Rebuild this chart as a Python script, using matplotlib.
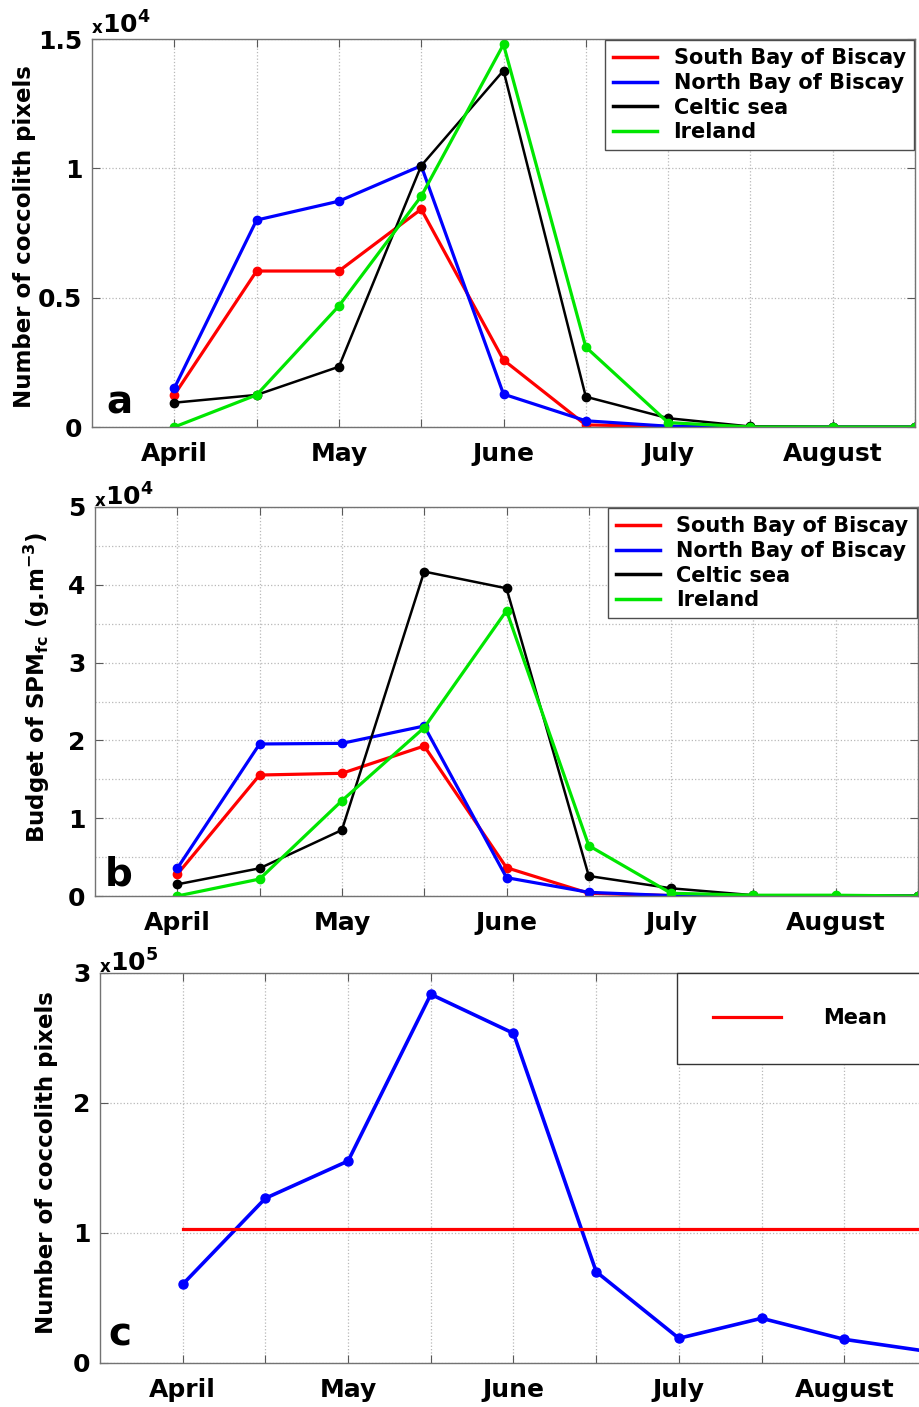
import numpy as np
import matplotlib
matplotlib.use('Agg')
import matplotlib.pyplot as plt
from matplotlib.lines import Line2D

plt.rcParams['font.family'] = ['DejaVu Sans']
plt.rcParams['font.weight'] = 'bold'
plt.rcParams['mathtext.default'] = 'bf'

# ==== data ====
months = ['April', '', 'May', '', 'June', '', 'July', '', 'August', '']
steps = np.arange(1, 11)

regions = ['South Bay of Biscay', 'North Bay of Biscay', 'Celtic sea', 'Ireland']
colors = ['#ff0000', '#0000ff', '#000000', '#00e600']

# panel a: number of coccolith pixels
south_a = [1240, 6030, 6030, 8420, 2590, 80, 20, 0, 0, 0]
north_a = [1500, 8000, 8730, 10100, 1270, 240, 30, 0, 0, 0]
celtic_a = [940, 1240, 2330, 10100, 13780, 1170, 340, 20, 0, 0]
ireland_a = [0, 1240, 4680, 8920, 14790, 3090, 170, 0, 0, 0]

# panel b: budget of SPM_fc (g.m-3)
south_b = [2790, 15550, 15770, 19280, 3640, 350, 50, 0, 0, 0]
north_b = [3560, 19540, 19620, 21850, 2360, 470, 50, 0, 0, 0]
celtic_b = [1500, 3560, 8480, 41700, 39550, 2570, 990, 100, 50, 0]
ireland_b = [0, 2180, 12250, 21640, 36670, 6470, 350, 100, 100, 0]

# panel c: total number of coccolith pixels
total_c = [60500, 126700, 155400, 283600, 253600, 70200, 19000, 34400, 18200, 9000]


W, H = 920, 1407
fig = plt.figure(figsize=(W/100., H/100.), dpi=100)

def px_axes(left, top, right, bottom):
    return fig.add_axes([left/W, 1 - bottom/H, (right - left)/W, (bottom - top)/H])

def style_axes(ax, ymax, ystep):
    ax.set_xlim(0, 10)
    ax.set_ylim(0, ymax)
    ax.set_xticks(steps)
    ax.set_xticklabels(months, fontsize=18, fontweight='bold')
    ax.set_yticks(np.arange(0, ymax + 1e-9, ystep))
    ax.tick_params(direction='in', top=True, right=True, length=6, width=0.8,
                   color='0.35')
    ax.tick_params(axis='x', pad=11, labelsize=18)
    ax.tick_params(axis='y', pad=7, labelsize=18)
    ax.grid(True, which='both', linestyle=':', color='0.72', linewidth=0.9)
    for s in ax.spines.values():
        s.set_color('0.45')
        s.set_linewidth(1.0)

def sci_label(ax, exponent, dy):
    ax.annotate('x', xy=(0, 1), xycoords='axes fraction', xytext=(0, dy),
                textcoords='offset points', fontsize=12, fontweight='bold', va='baseline')
    ax.annotate('10$^{%d}$' % exponent, xy=(0, 1), xycoords='axes fraction',
                xytext=(7.5, dy), textcoords='offset points', fontsize=18,
                fontweight='bold', va='baseline')

def legend4(ax):
    handles = [Line2D([], [], color=c, lw=2.5) for c in colors]
    leg = ax.legend(handles, regions, loc='upper right', bbox_to_anchor=(1.0, 1.0),
                    borderaxespad=0.05, fontsize=15, handlelength=2.1,
                    handletextpad=0.8, labelspacing=0.22, borderpad=0.4,
                    fancybox=False, framealpha=1, edgecolor='0.3')
    leg.get_frame().set_linewidth(1.0)

# ---- panel a ----
ax = px_axes(92, 39, 915, 427)
series_a = [south_a, north_a, celtic_a, ireland_a]
for vals, c in zip(series_a, colors):
    lw = 1.8 if c == '#000000' else 2.3
    ax.plot(steps, np.array(vals)/1e4, '-o', color=c, lw=lw, ms=6)
style_axes(ax, 1.5, 0.5)
ax.set_yticklabels(['0', '0.5', '1', '1.5'])
ax.set_ylabel('Number of coccolith pixels', fontsize=16.5, fontweight='bold')
ax.yaxis.set_label_coords(-0.068, 0.49)
legend4(ax)
sci_label(ax, 4, 4)
ax.text(0.018, 0.036, 'a', transform=ax.transAxes, fontsize=28, fontweight='bold')

# ---- panel b ----
ax = px_axes(95, 507, 918, 896)
series_b = [south_b, north_b, celtic_b, ireland_b]
for vals, c in zip(series_b, colors):
    lw = 1.8 if c == '#000000' else 2.3
    ax.plot(steps, np.array(vals)/1e4, '-o', color=c, lw=lw, ms=6)
style_axes(ax, 5, 1)
ax.set_yticks(np.arange(0, 5.01, 0.5), minor=True)
ax.tick_params(which='minor', direction='in', right=True, length=0)
ax.set_ylabel('Budget of SPM$_{fc}$ (g.m$^{-3}$)', fontsize=16.5, fontweight='bold')
ax.yaxis.set_label_coords(-0.052, 0.535)
legend4(ax)
sci_label(ax, 4, 1)
ax.text(0.012, 0.028, 'b', transform=ax.transAxes, fontsize=28, fontweight='bold')

# ---- panel c ----
ax = px_axes(100, 973, 927, 1363)
ax.plot(steps, np.array(total_c)/1e5, '-o', color='#0000ff', lw=2.6, ms=6.5)
mean_c = np.mean(total_c)/1e5
ax.plot([steps[0], steps[-1]], [mean_c, mean_c], color='#ff0000', lw=2.3, label='Mean')
style_axes(ax, 3, 1)
ax.set_ylabel('Number of coccolith pixels', fontsize=16.5, fontweight='bold')
ax.yaxis.set_label_coords(-0.051, 0.513)
leg = ax.legend(loc='upper left', bbox_to_anchor=(0.698, 0.0, 0.32, 1.0), mode='expand',
                borderaxespad=0, fontsize=15, handlelength=3.3, handletextpad=2.0,
                borderpad=1.7, fancybox=False, framealpha=1, edgecolor='0.2')
leg.get_frame().set_linewidth(1.0)
sci_label(ax, 5, 1)
ax.text(0.01, 0.046, 'c', transform=ax.transAxes, fontsize=28, fontweight='bold')

fig.savefig('out.png', dpi=100)
